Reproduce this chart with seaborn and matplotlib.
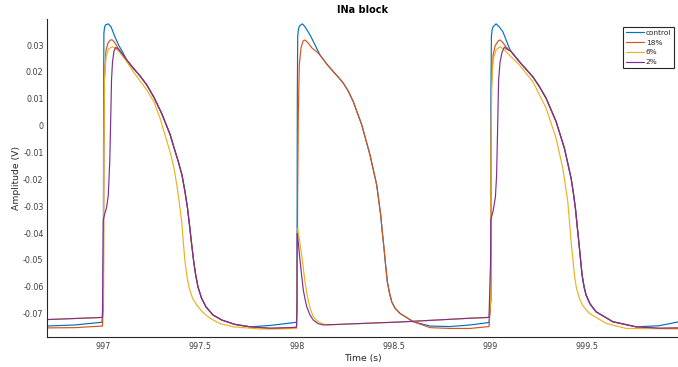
import matplotlib
matplotlib.use("Agg")
import matplotlib.pyplot as plt
import pandas as pd
import seaborn as sns

# ---------------- data (time in s, amplitude in V) ----------------
series_names = ["control", "18%", "6%", "2%"]
series_colors = ["#0072BD", "#D95319", "#EDB120", "#7E2F8E"]

# shared plateau / repolarisation traces
rep1_t = [997.1238, 997.1563, 997.1900, 997.2255, 997.2632, 997.3029, 997.3457, 997.3664, 997.3885, 997.4076,
          997.4231, 997.4360, 997.4463, 997.4567, 997.4670, 997.4773, 997.4902, 997.5083, 997.5315, 997.5676,
          997.6140, 997.6811, 997.7585]
rep1_v = [0.0243, 0.0214, 0.0186, 0.0152, 0.0105, 0.0045, -0.0032, -0.0082, -0.0134, -0.0184,
          -0.0246, -0.0307, -0.0370, -0.0437, -0.0500, -0.0552, -0.0601, -0.0642, -0.0675, -0.0705,
          -0.0724, -0.0740, -0.0749]
rep2_t = [998.1197, 998.1550, 998.1884, 998.2150, 998.2400, 998.2660, 998.2916, 998.3350, 998.3777, 998.4123,
          998.4226, 998.4330, 998.4412, 998.4500, 998.4582, 998.4670, 998.4783, 998.4897, 998.5067, 998.5325,
          998.6011]
rep2_v = [0.0263, 0.0229, 0.0201, 0.0180, 0.0158, 0.0128, 0.0089, 0.0003, -0.0109, -0.0221,
          -0.0277, -0.0333, -0.0396, -0.0457, -0.0519, -0.0581, -0.0623, -0.0656, -0.0679, -0.0699,
          -0.0730]
rep3_t = [999.1058, 999.1486, 999.2178, 999.2520, 999.2864, 999.3380, 999.3808, 999.4154, 999.4272, 999.4377,
          999.4463, 999.4551, 999.4634, 999.4721, 999.4825, 999.4928, 999.5134, 999.5444, 999.6306, 999.7508]
rep3_v = [0.0276, 0.0238, 0.0182, 0.0145, 0.0102, 0.0015, -0.0084, -0.0196, -0.0251, -0.0308,
          -0.0370, -0.0432, -0.0493, -0.0556, -0.0601, -0.0631, -0.0664, -0.0693, -0.0730, -0.0749]

# control
ctrl_a_t = [996.711, 996.856, 996.995, 997.0015, 997.0031, 997.0046, 997.0080, 997.0129, 997.0273, 997.0413,
            997.0619, 997.0826, 997.0980]
ctrl_a_v = [-0.0746, -0.0742, -0.0732, -0.0649, 0.0096, 0.0345, 0.0366, 0.0375, 0.0379, 0.0368,
            0.0330, 0.0297, 0.0278]
ctrl_b_t = [997.8617, 997.9648, 997.9985, 998.0010, 998.0026, 998.0046, 998.0080, 998.0139, 998.0284, 998.0423,
            998.0681, 998.1027]
ctrl_b_v = [-0.0744, -0.0735, -0.0732, -0.0649, 0.0096, 0.0330, 0.0358, 0.0371, 0.0379, 0.0368,
            0.0338, 0.0288]
ctrl_c_t = [998.6873, 998.7905, 998.8937, 998.9918, 999.0010, 999.0015, 999.0041, 999.0075, 999.0129, 999.0284,
            999.0439, 999.0630, 999.0800, 999.0970]
ctrl_c_v = [-0.0746, -0.0748, -0.0742, -0.0733, -0.0649, 0.0096, 0.0330, 0.0356, 0.0368, 0.0379,
            0.0368, 0.0350, 0.0319, 0.0288]
ctrl_d_t = [999.8695, 999.9727]
ctrl_d_v = [-0.0745, -0.0730]

# 18 %
r18_a_t = [996.711, 996.856, 996.997, 997.0026, 997.0046, 997.0072, 997.0155, 997.0258, 997.0387, 997.0480,
           997.0619, 997.0774, 997.0965]
r18_a_v = [-0.0753, -0.0752, -0.0746, -0.0649, -0.0091, 0.0170, 0.0282, 0.0308, 0.0319, 0.0319, 0.0308, 0.0289,
           0.0270]
r18_b_t = [997.8617, 997.9648, 997.9985, 998.0026, 998.0041, 998.0077, 998.0129, 998.0217, 998.0320, 998.0423,
           998.0578, 998.0784, 998.1027]
r18_b_v = [-0.0755, -0.0753, -0.0752, -0.0649, -0.0277, 0.0040, 0.0226, 0.0289, 0.0315, 0.0319, 0.0308, 0.0289,
           0.0275]
r18_c_t = [998.6873, 998.7905, 998.8937, 998.9918, 999.0010, 999.0026, 999.0052, 999.0129, 999.0232, 999.0387,
           999.0490, 999.0645, 999.0800]
r18_c_v = [-0.0752, -0.0755, -0.0755, -0.0748, -0.0649, -0.0091, 0.0170, 0.0263, 0.0297, 0.0315, 0.0319, 0.0308,
           0.0293]
r18_d_t = [999.8695, 999.9727]
r18_d_v = [-0.0755, -0.0754]

# 6 %
r6_a_t = [996.711, 996.856, 996.997, 997.0015, 997.0041, 997.0072, 997.0155, 997.0284, 997.0501, 997.0671,
          997.0877, 997.1238, 997.1563, 997.2255, 997.2632, 997.2941, 997.3457, 997.3664, 997.3834, 997.3947,
          997.4061, 997.4143, 997.4231, 997.4334, 997.4453, 997.4618, 997.4835, 997.5160, 997.5521, 997.6037,
          997.6723, 997.8101, 997.9133, 997.9985]
r6_a_v = [-0.0722, -0.0718, -0.0714, -0.0649, -0.0091, 0.0170, 0.0256, 0.0286, 0.0294, 0.0286,
          0.0271, 0.0237, 0.0201, 0.0133, 0.0088, 0.0028, -0.0097, -0.0158, -0.0233, -0.0292,
          -0.0358, -0.0433, -0.0507, -0.0563, -0.0606, -0.0642, -0.0668, -0.0696, -0.0717, -0.0737,
          -0.0749, -0.0757, -0.0757, -0.0755]
r6_b_t = [998.0010, 998.0046, 998.0139, 998.0253, 998.0346, 998.0423, 998.0552, 998.0681, 998.0836, 998.1027,
          998.1300, 998.1558, 998.5325, 998.8937, 998.9918]
r6_b_v = [-0.0649, -0.0382, -0.0426, -0.0482, -0.0537, -0.0582, -0.0638, -0.0679, -0.0709, -0.0726,
          -0.0737, -0.0742, -0.0731, -0.0717, -0.0714]
r6_c_t = [999.0000, 999.0026, 999.0052, 999.0129, 999.0284, 999.0490, 999.0645, 999.0851, 999.1486, 999.2178,
          999.2864, 999.3380, 999.3726, 999.3984, 999.4066, 999.4154, 999.4325, 999.4428, 999.4582, 999.4773,
          999.5098, 999.5960, 999.6992, 999.9727]
r6_c_v = [-0.0649, -0.0091, 0.0133, 0.0245, 0.0282, 0.0294, 0.0286, 0.0271, 0.0226, 0.0164,
          0.0065, -0.0047, -0.0159, -0.0283, -0.0355, -0.0432, -0.0556, -0.0604, -0.0643, -0.0672,
          -0.0699, -0.0736, -0.0755, -0.0757]

# 2 %
r2_a_t = [996.711, 996.856, 996.997, 997.0000, 997.0015, 997.0072, 997.0191, 997.0273, 997.0351, 997.0402,
          997.0439, 997.0490, 997.0568, 997.0655, 997.0774, 997.0965]
r2_a_v = [-0.0722, -0.0718, -0.0714, -0.0463, -0.0351, -0.0333, -0.0303, -0.0258, -0.0128, 0.0040,
          0.0170, 0.0237, 0.0278, 0.0291, 0.0286, 0.0270]
r2_b_t = [997.8617, 997.9648, 997.9985, 998.0010, 998.0021, 998.0088, 998.0165, 998.0253, 998.0335, 998.0423,
          998.0511, 998.0681, 998.0852, 998.1094, 998.1368, 998.5325, 998.8937, 998.9918, 999.0000, 999.0010,
          999.0129, 999.0248, 999.0310, 999.0361, 999.0413, 999.0490, 999.0593, 999.0712, 999.0851]
r2_b_v = [-0.0754, -0.0752, -0.0750, -0.0649, -0.0401, -0.0444, -0.0500, -0.0560, -0.0612, -0.0645,
          -0.0674, -0.0705, -0.0724, -0.0737, -0.0742, -0.0731, -0.0717, -0.0714, -0.0500, -0.0351,
          -0.0318, -0.0266, -0.0184, -0.0016, 0.0170, 0.0237, 0.0274, 0.0292, 0.0284]
r2_c_t = [999.8695, 999.9727]
r2_c_v = [-0.0754, -0.0753]

xticks = [997, 997.5, 998, 998.5, 999, 999.5]
xtick_labels = ["997", "997.5", "998", "998.5", "999", "999.5"]
yticks = [-0.07, -0.06, -0.05, -0.04, -0.03, -0.02, -0.01, 0, 0.01, 0.02, 0.03]
ytick_labels = ["-0.07", "-0.06", "-0.05", "-0.04", "-0.03", "-0.02", "-0.01", "0", "0.01", "0.02", "0.03"]

# ---------------- assemble ----------------
traces = {
    "control": (ctrl_a_t + rep1_t + ctrl_b_t + rep2_t + ctrl_c_t + rep3_t + ctrl_d_t,
                ctrl_a_v + rep1_v + ctrl_b_v + rep2_v + ctrl_c_v + rep3_v + ctrl_d_v),
    "18%": (r18_a_t + rep1_t + r18_b_t + rep2_t + r18_c_t + rep3_t + r18_d_t,
            r18_a_v + rep1_v + r18_b_v + rep2_v + r18_c_v + rep3_v + r18_d_v),
    "6%": (r6_a_t + r6_b_t + r6_c_t, r6_a_v + r6_b_v + r6_c_v),
    "2%": (r2_a_t + rep1_t + r2_b_t + rep3_t + r2_c_t, r2_a_v + rep1_v + r2_b_v + rep3_v + r2_c_v),
}
frames = []
for name in series_names:
    t, v = traces[name]
    frames.append(pd.DataFrame({"t": t, "v": v, "series": name}))
df = pd.concat(frames, ignore_index=True)

# ---------------- plot ----------------
sns.set_style("white")
plt.rcParams["font.family"] = ["DejaVu Sans"]
plt.rcParams["axes.unicode_minus"] = False

W, H = 678, 367
fig = plt.figure(figsize=(W / 100, H / 100), dpi=100)
ax = fig.add_axes([47 / W, (H - 337.3) / H, (W - 47) / W, (337.3 - 19) / H])

sns.lineplot(data=df, x="t", y="v", hue="series", hue_order=series_names,
             palette=series_colors, estimator=None, sort=False, linewidth=0.85,
             legend=False, ax=ax)

ax.set_xlim(996.711, 999.967)
ax.set_ylim(-0.0788, 0.0397)
ax.set_xticks(xticks)
ax.set_xticklabels(xtick_labels)
ax.set_yticks(yticks)
ax.set_yticklabels(ytick_labels)

axis_col = "#262626"
for s in ["top", "right"]:
    ax.spines[s].set_visible(False)
for s in ["left", "bottom"]:
    ax.spines[s].set_color(axis_col)
    ax.spines[s].set_linewidth(0.8)
ax.tick_params(direction="in", length=4.5, width=0.7, color=axis_col,
               labelcolor="#404040", labelsize=5.8)
ax.tick_params(axis="y", pad=2.5)
ax.tick_params(axis="x", pad=3.5)

ax.set_xlabel("Time (s)", fontsize=6.7, color=axis_col, labelpad=2)
ax.set_ylabel("Amplitude (V)", fontsize=6.7, color=axis_col, labelpad=1.2)
ax.set_title("INa block", fontsize=7, fontweight="bold", color="black", pad=4)

leg = ax.legend(ax.get_lines()[:4], series_names, loc="upper right",
                bbox_to_anchor=(674.3 / W, 1 - 26.7 / H), bbox_transform=fig.transFigure,
                borderaxespad=0, fontsize=5.3, frameon=True, fancybox=False, framealpha=1,
                handlelength=2.4, handletextpad=0.3, labelspacing=0.5, borderpad=0.4)
leg.get_frame().set_edgecolor(axis_col)
leg.get_frame().set_linewidth(0.8)
for txt in leg.get_texts():
    txt.set_color(axis_col)

fig.savefig("out.png", dpi=100)
